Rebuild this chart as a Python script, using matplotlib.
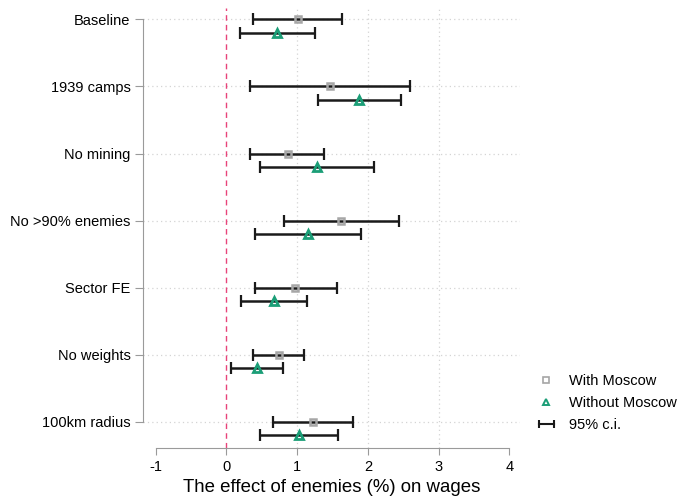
import matplotlib
import numpy as np
from matplotlib import pyplot as plt
from matplotlib.lines import Line2D
from matplotlib.legend_handler import HandlerLine2D

plt.rcParams['font.family'] = ['Liberation Sans', 'DejaVu Sans']

# specifications (top to bottom)
specs = ['Baseline', '1939 camps', 'No mining', 'No >90% enemies',
         'Sector FE', 'No weights', '100km radius']

# with Moscow: point estimate and 95% c.i.
with_est = [1.01, 1.46, 0.87, 1.62, 0.97, 0.74, 1.23]
with_lo = [0.38, 0.33, 0.34, 0.81, 0.40, 0.38, 0.66]
with_hi = [1.63, 2.59, 1.38, 2.44, 1.56, 1.10, 1.79]

# without Moscow
wo_est = [0.72, 1.87, 1.28, 1.15, 0.67, 0.43, 1.03]
wo_lo = [0.19, 1.29, 0.48, 0.40, 0.21, 0.06, 0.48]
wo_hi = [1.26, 2.47, 2.08, 1.91, 1.14, 0.80, 1.58]

xticks = [-1, 0, 1, 2, 3, 4]

green = '#1b9e77'
grey = '#a6a6a6'
axcol = '#9a9a9a'

fig = plt.figure(figsize=(6.82, 5.01), dpi=100)
ax = fig.add_axes([0.2097, 0.1058, 0.5528, 0.8782])

ypos = np.arange(len(specs))
off = 0.2

# grid
for y in ypos:
    ax.axhline(y, color='#d4d4d4', lw=0.9, ls=(0, (1, 2.5)), zorder=0)
for x in [1, 2, 3]:
    ax.axvline(x, color='#d4d4d4', lw=0.9, ls=(0, (1, 2.5)), zorder=0)
ax.axvline(0, color='#e8437a', lw=1.0, ls=(0, (4, 3)), zorder=1)

est = np.array(with_est)
ax.errorbar(est, ypos, xerr=[est - np.array(with_lo), np.array(with_hi) - est],
            fmt='none', ecolor='#1a1a1a', elinewidth=1.8, capsize=4, capthick=1.6, zorder=2)
ax.plot(with_est, ypos, 's', ms=5, mfc='none', mec=grey, mew=1.8, zorder=3)

est2 = np.array(wo_est)
ax.errorbar(est2, ypos + off, xerr=[est2 - np.array(wo_lo), np.array(wo_hi) - est2],
            fmt='none', ecolor='#1a1a1a', elinewidth=1.8, capsize=4, capthick=1.6, zorder=2)
ax.plot(wo_est, ypos + off, '^', ms=5.5, mfc='none', mec=green, mew=2.0, zorder=3)

ax.set_xlim(-1.177, 4.15)
ax.set_ylim(6.39, -0.17)
ax.set_yticks(ypos)
ax.set_yticklabels(specs, fontsize=10.5)
ax.set_xticks(xticks)
ax.set_xticklabels([str(t) for t in xticks], fontsize=10.5)
ax.set_xlabel('The effect of enemies (%) on wages', fontsize=13.4, labelpad=3)

for s in ['top', 'right']:
    ax.spines[s].set_visible(False)
ax.spines['left'].set_bounds(0, 6)
ax.spines['bottom'].set_bounds(-1, 4)
ax.spines['left'].set_color(axcol)
ax.spines['bottom'].set_color(axcol)
ax.tick_params(axis='y', length=6, color=axcol, pad=3)
ax.tick_params(axis='x', length=5, color=axcol, pad=4)

h1 = Line2D([], [], ls='none', marker='s', ms=4.5, mfc='none', mec=grey, mew=1.2)
h2 = Line2D([], [], ls='none', marker='^', ms=4.5, mfc='none', mec=green, mew=1.4)
h3 = Line2D([], [], color='#1a1a1a', lw=1.5, marker='|', ms=6, mew=1.5)
fig.legend([h1, h2, h3], ['With Moscow', 'Without Moscow', '95% c.i.'],
           loc='center left', bbox_to_anchor=(0.784, 0.196), frameon=False,
           fontsize=10.5, handlelength=1.6, handletextpad=0.75, labelspacing=0.55,
           borderpad=0, borderaxespad=0,
           handler_map={h1: HandlerLine2D(numpoints=1), h2: HandlerLine2D(numpoints=1),
                        h3: HandlerLine2D(numpoints=2)})

fig.savefig('out.png', dpi=100)
